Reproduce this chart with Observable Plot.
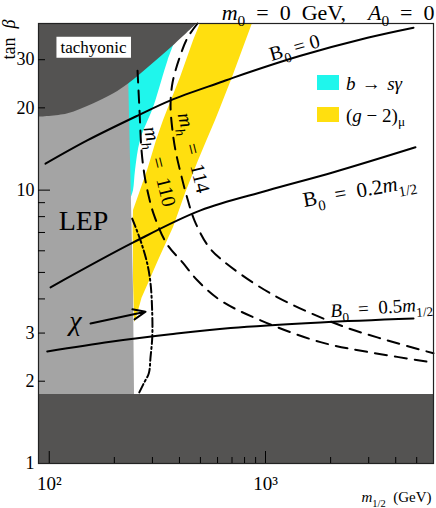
<!DOCTYPE html>
<html><head><meta charset="utf-8">
<script src="https://cdn.jsdelivr.net/npm/d3@7"></script>
<script src="https://cdn.jsdelivr.net/npm/@observablehq/plot@0.6"></script>
<style>
html,body{margin:0;padding:0;background:#fff;}
#wrap{position:relative;width:436px;height:508px;overflow:hidden;}
.sw{position:absolute;width:22px;height:15px;}
.lt{position:absolute;font-family:"Liberation Serif",serif;font-size:19px;line-height:1;white-space:nowrap;}
.lt sub{font-size:70%;vertical-align:-4px;line-height:0;}
</style></head><body><div id="wrap"></div>
<script>
const xMin = 89.2, xMax = 5980, yMin = 1, yMax = 40.7;

// ticks
const xTicksMajor = [100, 1000];
const xTickLabels = ["10²", "10³"];
const xTicksMinor = [200,300,400,500,600,700,800,900,2000,3000,4000,5000];
const yTickValues = [1,2,3,10,20,30];
const yTicksLong = [10];
const yTicksShort = [2,3,4,5,6,7,8,9,20,30];

// excluded low tan beta band (all m1/2)
const lowBandMass = [89.2, 5980];
const lowBandTop = 1.79;

// tachyonic boundary
const tachMass    = [89.2, 121.1, 160.8, 198.9, 233.4, 294.0, 376.8, 483.3];
const tachTanBeta = [18.5, 19.0, 20.7, 22.5, 24.5, 28.5, 33.8, 40.7];

// LEP exclusion boundary
const lepTanBeta = [1.79, 4.3, 12.8, 27];
const lepMass    = [247.9, 245.3, 237.6, 232.6];

// b -> s gamma excluded region (right edge)
const bsgTanBeta = [9.3, 9.97, 11.8, 15.2, 20.0, 25.1, 29.7, 35.2];
const bsgMass    = [238.5, 245.3, 250.6, 264.3, 303.5, 331.5, 354, 383.6];

// (g-2)_mu favoured band
const g2TanBeta = [3.28, 3.40, 4.02, 4.67, 5.53, 7.30, 8.43, 9.72, 11.8, 12.8, 15.2, 17.96, 20.0, 25.8, 35.2, 40.7];
const g2MassLo  = [247.9, 247.9, 246.6, 245.3, 245.3, 244.0, 245.3, 261.5, 284.8, 294.0, 313.5, 337.7, 356.1, 404.6, 464.7, 500.6];
const g2MassHi  = [247.9, 253.3, 268.5, 291.9, 320.2, 375.5, 400.4, 426.7, 470.2, 490.1, 536.4, 587.4, 620.2, 703.8, 813.3, 870.8];

// B0 contours
const b0ZeroMass    = [96.1, 149.9, 255.2, 363.9, 619.5, 711.5, 1451, 2963, 4834];
const b0ZeroTanBeta = [12.5, 15.2, 18.7, 21.3, 24.8, 25.8, 31.0, 36.1, 39.3];
const b02Mass    = [101.4, 246.1, 500.6, 1021, 2063, 4936];
const b02TanBeta = [4.41, 6.45, 8.43, 9.97, 11.63, 14.35];
const b05Mass    = [97.9, 192, 363.9, 689.5, 1796, 4834];
const b05TanBeta = [2.57, 2.79, 2.97, 3.13, 3.28, 3.39];

// Higgs mass contours
const mh110Mass    = [256.0, 261.5, 267.2, 275.9, 287.9, 303.5, 348.7, 413.4, 484.9, 619.5, 948.2, 1796, 3059, 5980];
const mh110TanBeta = [27.35, 19.5, 13.95, 11.3, 9.56, 8.21, 6.38, 5.44, 4.67, 3.95, 3.34, 2.78, 2.55, 2.34];
const mh114Mass    = [484.9, 436.0, 400.4, 371.5, 363.9, 371.5, 383.6, 404.6, 431.3, 469.6, 545.2, 632.9, 1055, 2153, 3665, 5980];
const mh114TanBeta = [40.7, 36.1, 30.5, 24.7, 20.4, 16.5, 13.95, 11.6, 9.56, 7.74, 6.22, 5.53, 4.19, 3.23, 2.82, 2.53];

// chargino limit (dash-dot)
const chiMass    = [241.9, 264.3, 283.9, 294.0, 299.4, 299.4, 294.0, 288.7, 273.7, 259.6];
const chiTanBeta = [7.87, 6.54, 5.39, 4.56, 3.54, 2.89, 2.45, 2.14, 1.965, 1.806];

// arrow from chi label
const arrowMass = [155.2, 278.8];
const arrowTanBeta = [3.25, 3.59];

// labels
const labelText    = ["B0 = 0", "B0 = 0.2m1/2", "B0 = 0.5m1/2", "mh = 110", "mh = 114", "LEP", "tachyonic", "χ"];
const labelMass    = [1362, 2720, 3439, 323.6, 464.7, 144.1, 160.2, 132.3];
const labelTanBeta = [33.2, 9.97, 3.72, 12.2, 13.7, 7.68, 33.3, 3.31];

const legendLabels = ["<i>b</i>\u2004→\u2004<i>sγ</i>", "(<i>g</i> − 2)<sub>μ</sub>"];
const legendColors = ["#1ff6ec", "#ffdf0f"];

const zip = (ms, ts) => ms.map((m, i) => ({m, tb: ts[i]}));

// rich text -> tspans
function rich(parts, fs) {
  let cur = 0, out = "";
  for (const [txt, st = ""] of parts) {
    const f = st.split(",");
    const target = f.includes("sub") ? fs * 0.3 : 0;
    const dy = target - cur; cur = target;
    const a = [];
    if (dy) a.push(`dy="${dy.toFixed(2)}"`);
    a.push(`font-size="${(f.includes("sub") ? fs * 0.7 : fs).toFixed(1)}"`);
    if (f.includes("i")) a.push(`font-style="italic"`);
    out += `<tspan ${a.join(" ")}>${txt}</tspan>`;
  }
  return out;
}
const E = "\u2002";
const richMap = {
  "B0 = 0": rich([["B"], ["0", "sub"], [" = 0"]], 20),
  "B0 = 0.2m1/2": rich([["B"], ["0", "sub"], [E + "=" + E + "0.2"], ["m", "i"], ["1/2", "sub"]], 21),
  "B0 = 0.5m1/2": rich([["B", "i"], ["0", "sub"], [E + "=" + E + "0.5"], ["m", "i"], ["1/2", "sub"]], 19),
  "mh = 110": rich([["m", "i"], ["h", "sub,i"], [E + "=" + E + "110"]], 20),
  "mh = 114": rich([["m", "i"], ["h", "sub,i"], [E + "=" + E + "114"]], 20),
  "χ": rich([["χ", "i"]], 28),
  "m0 = 0 GeV, A0 = 0": rich([["m", "i"], ["0", "sub"], [E + "=" + E + "0" + E + "GeV,\u2003"], ["A", "i"], ["0", "sub"], [E + "=" + E + "0"]], 22),
  "tan β": rich([["tan" + E], ["β", "i"]], 18),
  "m1/2 (GeV)": rich([["m", "i"], ["1/2", "sub"], [E + "(GeV)"]], 15)
};

const serif = '"Liberation Serif", serif';
const lbl = (i, opts) => Plot.text([i], {x: d => labelMass[d], y: d => labelTanBeta[d], text: d => labelText[d],
  textAnchor: "middle", lineAnchor: "middle", fill: "black", ...opts});

const plot = Plot.plot({
  width: 436, height: 508,
  marginLeft: 38, marginRight: 3, marginTop: 23, marginBottom: 45,
  x: {type: "log", domain: [xMin, xMax]},
  y: {type: "log", domain: [yMin, yMax]},
  style: {fontFamily: serif, background: "white", color: "black"},
  marks: [
    Plot.areaX(zip(bsgMass, bsgTanBeta), {y: "tb", x1: xMin, x2: "m", fill: legendColors[0], curve: "catmull-rom"}),
    Plot.areaX(g2TanBeta.map((tb, i) => ({tb, lo: g2MassLo[i], hi: g2MassHi[i]})), {y: "tb", x1: "lo", x2: "hi", fill: legendColors[1]}),
    Plot.areaX(zip(lepMass, lepTanBeta), {y: "tb", x1: xMin, x2: "m", fill: "#a4a4a4"}),
    Plot.areaY(zip(tachMass, tachTanBeta), {x: "m", y1: "tb", y2: yMax, fill: "#545352", curve: "catmull-rom"}),
    Plot.areaY(lowBandMass.map(m => ({m})), {x: "m", y1: yMin, y2: lowBandTop, fill: "#545352"}),
    Plot.line(zip(b0ZeroMass, b0ZeroTanBeta), {x: "m", y: "tb", stroke: "black", strokeWidth: 2, curve: "catmull-rom"}),
    Plot.line(zip(b02Mass, b02TanBeta), {x: "m", y: "tb", stroke: "black", strokeWidth: 2, curve: "catmull-rom"}),
    Plot.line(zip(b05Mass, b05TanBeta), {x: "m", y: "tb", stroke: "black", strokeWidth: 2, curve: "catmull-rom"}),
    Plot.line(zip(mh110Mass, mh110TanBeta), {x: "m", y: "tb", stroke: "black", strokeWidth: 2, strokeDasharray: "12,8", curve: "catmull-rom"}),
    Plot.line(zip(mh114Mass, mh114TanBeta), {x: "m", y: "tb", stroke: "black", strokeWidth: 2, strokeDasharray: "12,8", curve: "catmull-rom"}),
    Plot.line(zip(chiMass, chiTanBeta), {x: "m", y: "tb", stroke: "black", strokeWidth: 2, strokeDasharray: "9,3,2,3", curve: "catmull-rom"}),
    Plot.arrow([0], {x1: () => arrowMass[0], y1: () => arrowTanBeta[0], x2: () => arrowMass[1], y2: () => arrowTanBeta[1],
      stroke: "black", strokeWidth: 2, headLength: 10, headAngle: 45}),
    lbl(0, {rotate: -16, fontSize: 20}),
    lbl(1, {rotate: -10, fontSize: 21}),
    lbl(2, {rotate: -4, fontSize: 19}),
    lbl(3, {rotate: 76, fontSize: 20}),
    lbl(4, {rotate: 76, fontSize: 20}),
    lbl(5, {fontSize: 28}),
    lbl(6, {fontSize: 17}),
    lbl(7, {fontSize: 28}),
    Plot.frame({stroke: "#222", strokeWidth: 1.2}),
    Plot.axisX(xTicksMajor, {tickSize: -12, tickFormat: () => "", label: null, stroke: "black"}),
    Plot.axisX(xTicksMinor, {tickSize: -6, tickFormat: () => "", label: null, stroke: "black"}),
    Plot.axisX(xTicksMajor, {tickSize: 0, tickPadding: 13, tickFormat: d => xTickLabels[xTicksMajor.indexOf(d)], label: null, fontSize: 19}),
    Plot.axisY(yTicksLong, {tickSize: -12, tickFormat: () => "", label: null, stroke: "black"}),
    Plot.axisY(yTicksShort, {tickSize: -7, tickFormat: () => "", label: null, stroke: "black"}),
    Plot.axisY(yTickValues, {tickSize: 0, tickPadding: 4, tickFormat: d => String(d), label: null, fontSize: 18}),
    Plot.text(["m0 = 0 GeV, A0 = 0"], {frameAnchor: "top-right", textAnchor: "end", lineAnchor: "middle", dy: -11, dx: 1, fontSize: 22}),
    Plot.text(["tan β"], {frameAnchor: "top-left", textAnchor: "middle", lineAnchor: "middle", rotate: -90, dx: -29, dy: 16, fontSize: 18, letterSpacing: 1.5}),
    Plot.text(["m1/2 (GeV)"], {frameAnchor: "bottom-right", textAnchor: "end", lineAnchor: "middle", dx: -2, dy: 34, fontSize: 15})
  ]
});

const wrap = document.getElementById("wrap");
wrap.appendChild(plot);
plot.querySelectorAll("text").forEach(t => {
  const k = t.textContent;
  if (richMap[k]) t.innerHTML = richMap[k];
  if (k === "tachyonic") {
    const bb = t.getBBox();
    const r = document.createElementNS("http://www.w3.org/2000/svg", "rect");
    r.setAttribute("x", bb.x - 4); r.setAttribute("y", bb.y - 1);
    r.setAttribute("width", bb.width + 8); r.setAttribute("height", bb.height + 2);
    r.setAttribute("fill", "white");
    if (t.getAttribute("transform")) r.setAttribute("transform", t.getAttribute("transform"));
    t.parentNode.insertBefore(r, t);
  }
});

legendLabels.forEach((h, i) => {
  const sw = document.createElement("div");
  sw.className = "sw"; sw.style.left = "317px"; sw.style.top = (75 + 32 * i) + "px"; sw.style.background = legendColors[i];
  const tx = document.createElement("div");
  tx.className = "lt"; tx.style.left = "346px"; tx.style.top = (74 + 32 * i) + "px"; tx.innerHTML = h;
  wrap.appendChild(sw); wrap.appendChild(tx);
});
</script></body></html>
